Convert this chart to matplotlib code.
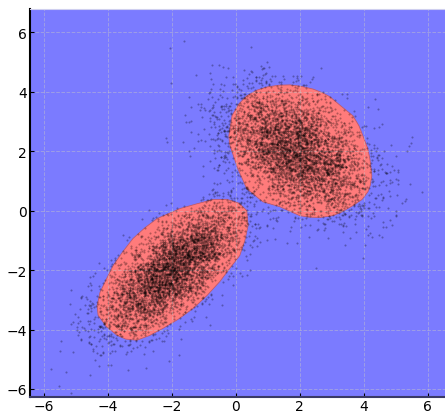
import numpy as np
import matplotlib.pyplot as plt
from matplotlib.patches import Polygon

# Two point clouds: centre, covariance, count
centres = [(1.9, 2.0), (-2.0, -2.0)]
covs = [
    [[1.3, -0.5], [-0.5, 1.05]],
    [[1.2, 0.85], [0.85, 1.2]],
]
counts = [4500, 4500]

# Boundary of the red (positive) regions, in data units
upper_x = [-0.22, -0.12, 0.1, 0.34, 0.65, 0.97, 1.35, 1.69, 2.05, 2.41, 2.7, 2.94,
           3.25, 3.66, 3.85, 3.97, 4.12, 4.19, 4.25, 4.2, 4.13, 3.95, 3.66, 3.3,
           3.03, 2.63, 2.3, 2.0, 1.375, 0.84, 0.34, 0.06, -0.12, -0.2]
upper_y = [2.52, 3.2, 3.6, 3.86, 4.05, 4.16, 4.22, 4.23, 4.18, 4.09, 3.97, 3.83,
           3.55, 3.19, 2.85, 2.52, 2.1, 1.74, 1.17, 0.85, 0.64, 0.38, 0.17, -0.05,
           -0.17, -0.23, -0.22, -0.17, 0.13, 0.30, 0.74, 1.41, 1.98, 2.25]
lower_x = [-1.75, -1.22, -0.72, -0.28, 0.1, 0.34, 0.38, 0.28, 0.12, -0.2, -0.5,
           -0.9, -1.34, -1.8, -2.28, -2.7, -3.1, -3.45, -3.72, -4.05, -4.31, -4.34,
           -4.25, -4.05, -3.84, -3.55, -3.22, -2.85, -2.47, -2.0]
lower_y = [0.07, 0.23, 0.37, 0.38, 0.25, 0.0, -0.5, -1.0, -1.51, -1.95, -2.38,
           -2.85, -3.29, -3.65, -3.96, -4.2, -4.36, -4.32, -4.19, -3.9, -3.52, -3.2,
           -2.75, -2.3, -1.85, -1.4, -0.94, -0.58, -0.27, -0.05]

xticks = [-6, -4, -2, 0, 2, 4, 6]
yticks = [-6, -4, -2, 0, 2, 4, 6]

blue = "#7b7bff"
red = "#ff7b7b"

fig = plt.figure(figsize=(4.45, 4.14), dpi=100)
ax = fig.add_axes([0.0674, 0.0386, 0.937, 0.937])
ax.set_facecolor(blue)

for xs, ys in [(upper_x, upper_y), (lower_x, lower_y)]:
    poly = Polygon(np.column_stack([xs, ys]), closed=True, facecolor=red,
                   edgecolor="#c05a6a", linewidth=0.6, joinstyle="round", zorder=1)
    ax.add_patch(poly)

rng = np.random.default_rng(3)
for c, cv, n in zip(centres, covs, counts):
    pts = rng.multivariate_normal(c, cv, n)
    ax.scatter(pts[:, 0], pts[:, 1], s=2.2, c="black", alpha=0.3,
               linewidths=0, zorder=2)

ax.set_xlim(-6.44, 6.6)
ax.set_ylim(-6.27, 6.78)
ax.set_xticks(xticks)
ax.set_yticks(yticks)
ax.set_xticklabels([f"\u2212{-t}" if t < 0 else str(t) for t in xticks])
ax.set_yticklabels([f"\u2212{-t}" if t < 0 else str(t) for t in yticks])
ax.tick_params(direction="in", length=3, labelsize=10)
ax.tick_params(axis="x", pad=1.5)
ax.tick_params(axis="y", pad=2)
ax.grid(True, linestyle="--", color="#c8c8c8", alpha=0.45, linewidth=0.7)

ax.spines["left"].set_linewidth(1.5)
ax.spines["bottom"].set_color("#3a3a66")
ax.spines["bottom"].set_linewidth(1.5)
ax.spines["top"].set_color("#cfcfef")
ax.spines["right"].set_visible(False)

fig.savefig("out.png", dpi=100)
